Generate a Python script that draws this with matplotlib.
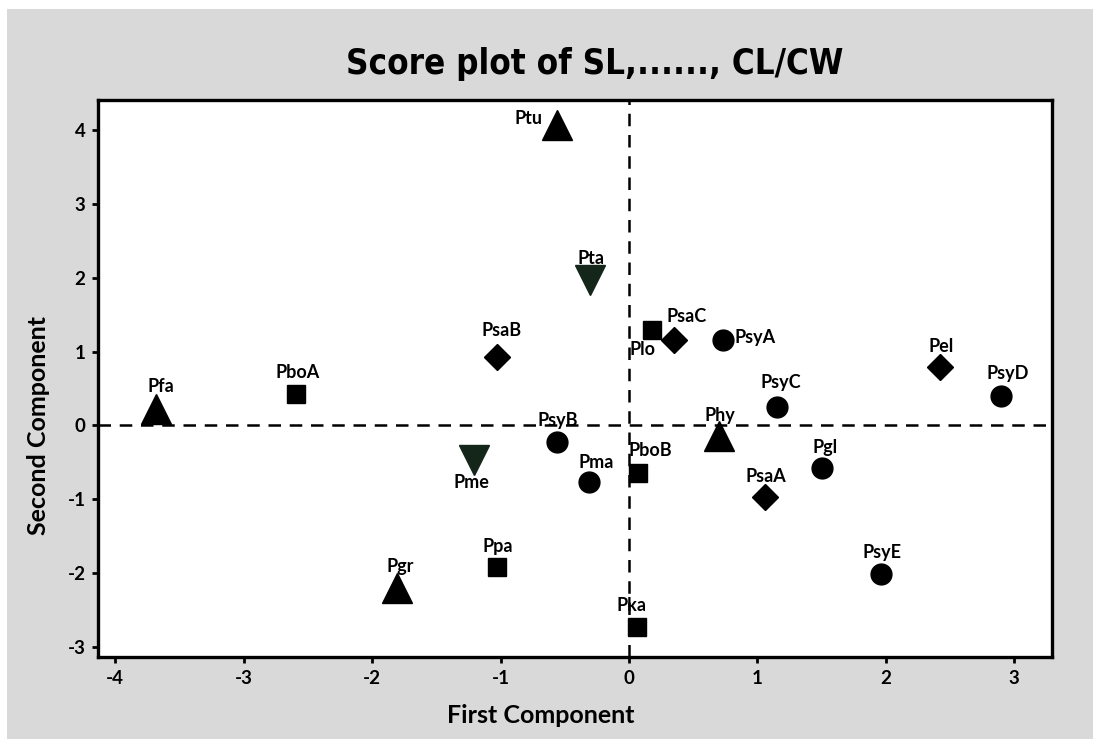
import matplotlib
matplotlib.use("Agg")
import matplotlib.pyplot as plt
from matplotlib.patches import Rectangle

plt.rcParams["axes.unicode_minus"] = False

# scores on the first two components
names = ["Ptu", "Pta", "PsaB", "Plo", "PsaC", "PsyA", "Pfa", "PboA", "PsyB",
         "Pme", "Ppa", "Pgr", "Pma", "PboB", "Phy", "PsyC", "Pgl", "PsaA",
         "PsyE", "Pka", "Pel", "PsyD"]
pc1 = [-0.56, -0.30, -1.03, 0.18, 0.35, 0.73, -3.68, -2.59, -0.56,
       -1.21, -1.03, -1.81, -0.31, 0.07, 0.70, 1.15, 1.50, 1.06,
       1.96, 0.06, 2.42, 2.90]
pc2 = [4.07, 1.97, 0.93, 1.29, 1.16, 1.16, 0.22, 0.43, -0.22,
       -0.47, -1.92, -2.20, -0.76, -0.64, -0.15, 0.25, -0.58, -0.97,
       -2.01, -2.73, 0.79, 0.40]
groups = ["tri", "down", "dia", "sq", "dia", "circ", "tri", "sq", "circ",
          "down", "sq", "tri", "circ", "sq", "tri", "circ", "circ", "dia",
          "circ", "sq", "dia", "circ"]

# marker style per group
styles = {
    "tri":  dict(marker="^", ms=21, color="black"),
    "down": dict(marker="v", ms=21, color="#14261a"),
    "dia":  dict(marker="D", ms=13, color="black"),
    "sq":   dict(marker="s", ms=13, color="black"),
    "circ": dict(marker="o", ms=15, color="black"),
}

# label offsets in pixels (dx, dy, ha)
offsets = {
    "Ptu": (-15, 6, "right"), "PsyA": (12, 2, "left"), "Plo": (-10, -19, "center"),
    "Pme": (-2, -22, "center"), "PsaC": (13, 23, "center"), "PboB": (12, 22, "center"),
    "Pma": (7, 19, "center"), "PsaB": (5, 26, "center"), "Pfa": (4, 23, "center"),
    "PsyD": (6, 22, "center"), "PsyC": (4, 24, "center"), "Pka": (-5, 22, "center"),
    "Pgr": (4, 21, "center"), "Pgl": (3, 21, "center"),
}

lab_font = "Lato"

fig = plt.figure(figsize=(10.99, 7.39), dpi=100)
fig.patch.set_facecolor("white")
fig.patches.append(Rectangle((7/1099, 0), 1 - 7/1099 - 6/1099, 1 - 9/739,
                             transform=fig.transFigure, facecolor="#d9d9d9",
                             edgecolor="none", zorder=-10))

ax = fig.add_axes([98/1099, 1 - 657/739, (1052 - 98)/1099, (657 - 100)/739])
ax.set_facecolor("white")

ax.axhline(0, color="black", ls=(0, (5, 3.5)), lw=1.8, zorder=1)
ax.axvline(0, color="black", ls=(0, (5, 3.5)), lw=1.8, zorder=1)

for n, x, y, g in zip(names, pc1, pc2, groups):
    st = styles[g]
    ax.plot(x, y, marker=st["marker"], ms=st["ms"], color=st["color"],
            ls="none", zorder=3)
    dx, dy, ha = offsets.get(n, (1, 21, "center"))
    ax.annotate(n, (x, y), xytext=(dx, dy), textcoords="offset pixels",
                ha=ha, va="center", fontsize=13, fontweight="bold",
                family=lab_font, zorder=4)

ax.set_xlim(-4.135, 3.294)
ax.set_ylim(-3.136, 4.406)
ax.set_xticks([-4, -3, -2, -1, 0, 1, 2, 3])
ax.set_yticks([-3, -2, -1, 0, 1, 2, 3, 4])

for s in ax.spines.values():
    s.set_linewidth(2.4)
ax.tick_params(width=2, length=4, labelsize=13.5, pad=5)
for t in ax.get_xticklabels() + ax.get_yticklabels():
    t.set_fontweight("bold")
    t.set_family(lab_font)

ax.set_xlabel("First Component", fontsize=18, fontweight="bold", family=lab_font)
ax.xaxis.set_label_coords(0.464, -0.085)
ax.set_ylabel("Second Component", fontsize=18, fontweight="bold", family=lab_font)
ax.yaxis.set_label_coords(-0.050, 0.416)

fig.text(595/1099, 1 - 64/739, "Score plot of SL,......, CL/CW", ha="center",
         va="center", fontsize=25, fontweight="bold", stretch="condensed",
         family=["DejaVu Sans Condensed", "Liberation Sans Narrow", "DejaVu Sans"])

fig.savefig("out.png", dpi=100)
